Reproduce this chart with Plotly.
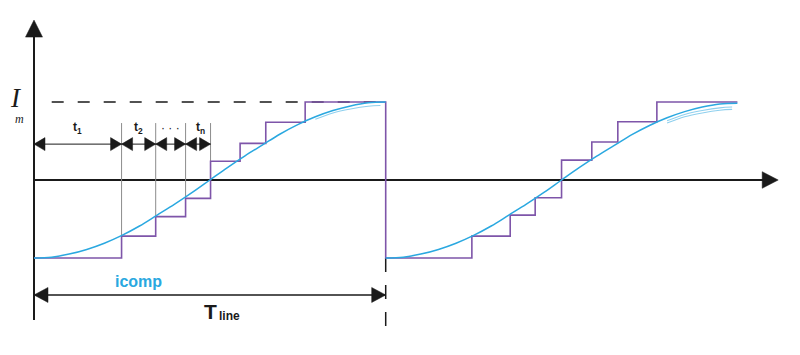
import math
import plotly.graph_objects as go

# ---------------- data (time in units of T_line, current in units of Im) -------------
# period 1 staircase: switching instants and levels held between them
step_edges_1 = [0.0, 0.249, 0.346, 0.431, 0.502, 0.586, 0.659, 0.771, 1.0]
step_levels_1 = [-1.0, -0.72, -0.47, -0.235, 0.24, 0.47, 0.74, 1.0]
# period 2 staircase (offset by one period)
step_edges_2 = [0.0, 0.245, 0.354, 0.425, 0.500, 0.586, 0.660, 0.771, 1.0]
step_levels_2 = [-1.0, -0.72, -0.45, -0.227, 0.255, 0.487, 0.747, 1.0]

# smooth compensation current i_comp (one period)
curve_t = [0.0, 0.05, 0.10, 0.15, 0.20, 0.25, 0.30, 0.35, 0.40, 0.45, 0.50,
           0.55, 0.60, 0.65, 0.70, 0.75, 0.80, 0.85, 0.90, 0.95, 1.0]
curve_i = [-1.0, -0.99, -0.95, -0.89, -0.81, -0.71, -0.59, -0.45, -0.31, -0.16, 0.0,
           0.16, 0.31, 0.45, 0.59, 0.71, 0.81, 0.89, 0.95, 0.99, 1.0]
# faint duplicate traces near the crest of each period
ghost_t = [0.80, 0.85, 0.90, 0.95, 0.985]
ghost_i = [0.78, 0.86, 0.91, 0.945, 0.955]

# interval markers t1, t2, ..., tn (boundaries) and their labels
interval_edges = [0.0, 0.249, 0.346, 0.431, 0.502]
interval_labels = ["t<sub>1</sub>", "t<sub>2</sub>", "· · ·", "t<sub>n</sub>"]
marker_row = 0.46       # height of the interval arrow row
guide_top = 0.73        # top of thin grey guide lines

IM = 1.0
T_LINE = 1.0
tline_row = -1.474

# ---------------- geometry helpers ----------------
W, H = 800, 355
PX_X = 351.7   # pixels per time unit
PX_Y = 78.0    # pixels per current unit
X0_PX, Y0_PX = 34.0, 180.0
x_range = [-X0_PX / PX_X, (W - X0_PX) / PX_X]
y_range = [(Y0_PX - H) / PX_Y, Y0_PX / PX_Y]

def dx(px):
    return px / PX_X

def dy(px):
    return px / PX_Y

BLACK = "#1a1a1a"
PURPLE = "#7e55a9"
BLUE = "#2aa8e0"
GREY = "#8c8c8c"

fig = go.Figure()

def line(xs, ys, color, width, dash=None, shape="linear"):
    fig.add_trace(go.Scatter(x=xs, y=ys, mode="lines",
                             line=dict(color=color, width=width, dash=dash, shape=shape),
                             hoverinfo="skip", showlegend=False))

def tri(tip_x, tip_y, direction, length_px, half_px, color=BLACK):
    if direction in ("left", "right"):
        s = 1 if direction == "right" else -1
        bx = tip_x - s * dx(length_px)
        xs = [tip_x, bx, bx, tip_x]
        ys = [tip_y, tip_y + dy(half_px), tip_y - dy(half_px), tip_y]
    else:
        s = 1 if direction == "up" else -1
        by = tip_y - s * dy(length_px)
        xs = [tip_x, tip_x - dx(half_px), tip_x + dx(half_px), tip_x]
        ys = [tip_y, by, by, tip_y]
    fig.add_trace(go.Scatter(x=xs, y=ys, mode="lines", fill="toself",
                             fillcolor=color, line=dict(color=color, width=0.5),
                             hoverinfo="skip", showlegend=False))

# ---------------- axes ----------------
y_axis_bottom = -1.795
y_axis_top = 2.05
x_axis_end = 2.116
line([0, 0], [y_axis_bottom, y_axis_top - dy(10)], BLACK, 2)
tri(0, y_axis_top, "up", 17, 8.5)
line([0, x_axis_end - dx(10)], [0, 0], BLACK, 2)
tri(x_axis_end, 0, "right", 16, 8.3)

# Im dashed level
line([dx(17.7), T_LINE], [IM, IM], BLACK, 1.5, dash="12px,14px")

# grey guide lines at the switching instants
for k in range(1, len(interval_edges)):
    xe = interval_edges[k]
    idx = step_edges_1.index(xe)
    line([xe, xe], [guide_top, step_levels_1[idx]], GREY, 1)

# interval arrows t1, t2, ..., tn
for k in range(len(interval_edges) - 1):
    a, b = interval_edges[k], interval_edges[k + 1]
    line([a, b], [marker_row, marker_row], BLACK, 1)
    tri(a, marker_row, "left", 11, 6.5)
    tri(b, marker_row, "right", 11, 6.5)

# T_line dimension arrow
line([0, T_LINE], [tline_row, tline_row], BLACK, 1.5)
tri(0, tline_row, "left", 14, 7.5)
tri(T_LINE, tline_row, "right", 14, 7.5)
line([T_LINE, T_LINE], [-1.0, -1.885], BLACK, 1.5, dash="14px,13px")

# ---------------- staircase (purple) ----------------
sx, sy = [], []
for i, lv in enumerate(step_levels_1):
    sx.append(step_edges_1[i]); sy.append(lv)
sx.append(step_edges_1[-1]); sy.append(step_levels_1[-1])
for i, lv in enumerate(step_levels_2):
    sx.append(T_LINE + step_edges_2[i]); sy.append(lv)
sx.append(T_LINE + step_edges_2[-1]); sy.append(step_levels_2[-1])
line(sx, sy, PURPLE, 1.6, shape="hv")

# ---------------- smooth i_comp (blue) ----------------
line(curve_t, curve_i, BLUE, 1.5, shape="spline")
line([T_LINE + t for t in curve_t], [v * (0.985 if v > 0 else 1.0) for v in curve_i],
     BLUE, 1.5, shape="spline")
line(ghost_t, ghost_i, "#8fd0ee", 1.1, shape="spline")
line([T_LINE + t for t in ghost_t], [v - 0.02 for v in ghost_i], "#8fd0ee", 1.1, shape="spline")
line([T_LINE + t for t in ghost_t], [v - 0.05 for v in ghost_i], "#8fd0ee", 1.1, shape="spline")

# ---------------- text ----------------
ann = []
sans = "Liberation Sans, Arial, sans-serif"
serif = "Liberation Serif, Times New Roman, serif"
label_x = [0.125, 0.296, 0.387, 0.472]
for lx, lab in zip(label_x, interval_labels):
    ann.append(dict(x=lx, y=marker_row + dy(16), text=("<b>%s</b>" % lab) if "t" in lab else lab,
                    showarrow=False, font=dict(family=sans, size=12, color=BLACK)))
ann.append(dict(x=-dx(18), y=IM + dy(4), text="<i>I</i>", showarrow=False,
                font=dict(family=serif, size=27, color=BLACK)))
ann.append(dict(x=-dx(15), y=IM - dy(17), text="<i>m</i>", showarrow=False,
                font=dict(family=serif, size=12, color=BLACK)))
ann.append(dict(x=0.2985, y=-1.295, text="<b>icomp</b>", showarrow=False,
                font=dict(family=sans, size=16, color=BLUE)))
ann.append(dict(x=dx(210 - X0_PX), y=tline_row - dy(17), text="<b>T</b>", showarrow=False,
                font=dict(family=sans, size=21, color=BLACK)))
ann.append(dict(x=dx(217 - X0_PX), y=tline_row - dy(21), text="<b>line</b>", showarrow=False,
                xanchor="left", font=dict(family=sans, size=12, color=BLACK)))

fig.update_layout(
    width=W, height=H, margin=dict(l=0, r=0, t=0, b=0),
    paper_bgcolor="white", plot_bgcolor="white",
    xaxis=dict(range=x_range, visible=False, fixedrange=True),
    yaxis=dict(range=y_range, visible=False, fixedrange=True),
    annotations=ann, showlegend=False,
)
fig.write_html("out.html")
